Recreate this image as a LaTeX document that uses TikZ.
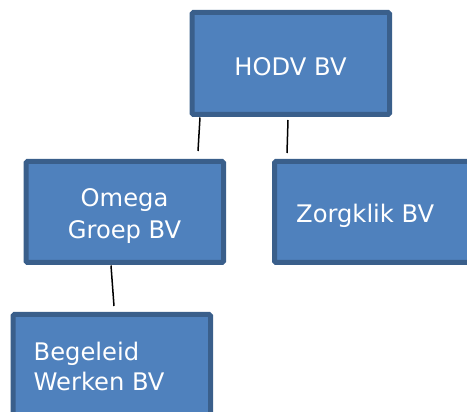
\documentclass[tikz,border=0pt]{standalone}
\usepackage{fontspec}
\setmainfont{DejaVu Sans}
\definecolor{boxfill}{HTML}{4F81BD}
\definecolor{boxline}{HTML}{3A5F8B}
\begin{document}
\begin{tikzpicture}[x=1pt,y=-1pt,
  orgbox/.style={draw=boxline, fill=boxfill, line width=5pt, rounded corners=1.5pt, rectangle, inner sep=0pt, outer sep=0pt, anchor=north west},
  orgtext/.style={text=white, font=\fontsize{24.2}{31.5}\selectfont, inner sep=0pt},
  link/.style={draw=black, line width=1.5pt}]
\useasboundingbox (0,0) rectangle (467,412);
\clip (0,0) rectangle (467,412);
\node[orgbox, minimum width=197.5pt, minimum height=102pt] (hodv) at (192,12.5) {};
\node[orgbox, minimum width=197.5pt, minimum height=101pt] (omega) at (26,161.5) {};
\node[orgbox, minimum width=197pt, minimum height=101pt] (zorg) at (274.5,161.5) {};
\node[orgbox, minimum width=197.5pt, minimum height=110pt] (beg) at (13,314.5) {};
\node[orgtext, anchor=base] (thodv) at (290.5,76) {HODV BV};
\node[orgtext, anchor=base] (tomega1) at (124.5,206.7) {Omega};
\node[orgtext, anchor=base] (tomega2) at (124.5,239) {Groep BV};
\node[orgtext, anchor=base west] (tzorg) at (296,222.7) {Zorgklik BV};
\node[orgtext, anchor=base west] (tbeg1) at (33.5,360) {Begeleid};
\node[orgtext, anchor=base west] (tbeg2) at (33.5,390.7) {Werken BV};
\coordinate (l1a) at (200,117.5);
\coordinate (l1b) at (198,151);
\coordinate (l2a) at (288,120);
\coordinate (l2b) at (287,153);
\coordinate (l3a) at (111,265.5);
\coordinate (l3b) at (114,306);
\draw[link] (l1a) -- (l1b);
\draw[link] (l2a) -- (l2b);
\draw[link] (l3a) -- (l3b);
\end{tikzpicture}
\end{document}
